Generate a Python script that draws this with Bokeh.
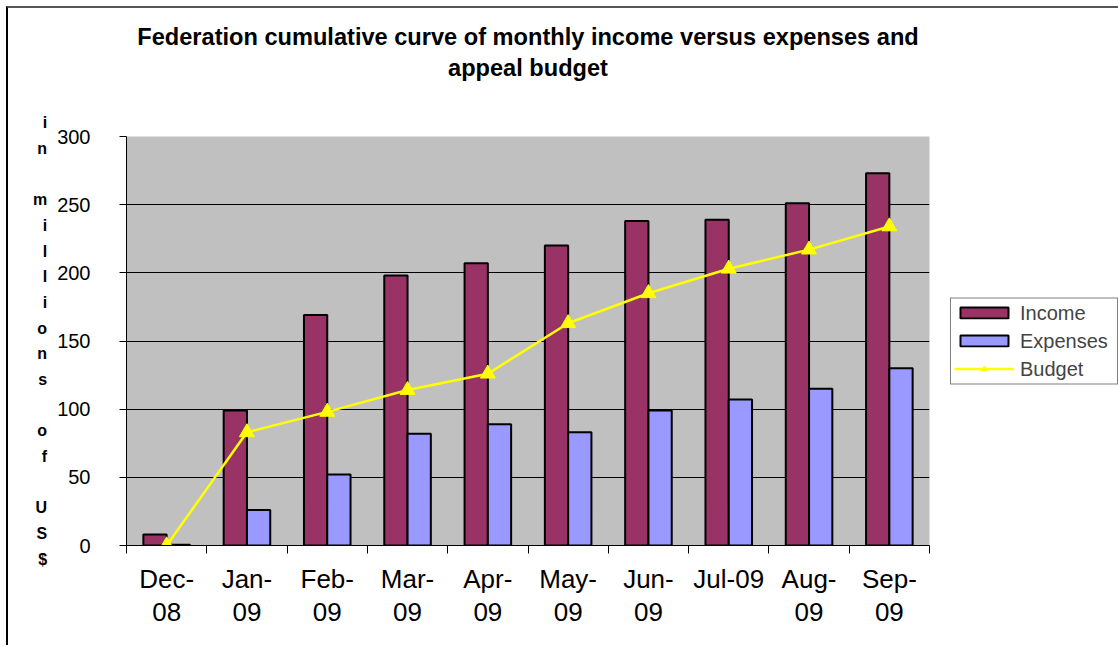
from bokeh.plotting import figure
from bokeh.models import Range1d, FixedTicker, Title, Legend, LegendItem, ColumnDataSource
from bokeh.embed import file_html
from bokeh.resources import INLINE

# ---- data ----
months = ["Dec-08", "Jan-09", "Feb-09", "Mar-09", "Apr-09",
          "May-09", "Jun-09", "Jul-09", "Aug-09", "Sep-09"]
tick_labels = ["Dec-\n08", "Jan-\n09", "Feb-\n09", "Mar-\n09", "Apr-\n09",
               "May-\n09", "Jun-\n09", "Jul-09", "Aug-\n09", "Sep-\n09"]
income = [8, 99, 169, 198, 207, 220, 238, 239, 251, 273]
expenses = [0.5, 26, 52, 82, 89, 83, 99, 107, 115, 130]
budget = [0, 83, 98, 114, 126, 163, 185, 203, 217, 234]
y_ticks = [0, 50, 100, 150, 200, 250, 300]
title_lines = ["Federation cumulative curve of monthly income versus expenses and",
               "appeal budget"]
y_title = "in millions of US$"

FONT = "Liberation Sans"
BAR_W = 0.29

centers = [i + 0.5 for i in range(len(months))]
src = ColumnDataSource(dict(
    xc=centers,
    xi=[c - BAR_W / 2 for c in centers],
    xe=[c + BAR_W / 2 for c in centers],
    income=income, expenses=expenses, budget=budget,
))

p = figure(frame_width=803, frame_height=409,
           x_range=Range1d(0, len(months)), y_range=Range1d(0, 300),
           output_backend="svg", toolbar_location=None,
           min_border_left=118, min_border_right=187,
           min_border_top=128, min_border_bottom=100,
           background_fill_color="#C0C0C0", border_fill_color="white",
           outline_line_color=None)
p.styles = {"margin-left": "6px", "margin-top": "6px",
            "border-left": "2px solid #000000", "border-top": "2px solid #555555"}

r_inc = p.vbar(x="xi", top="income", width=BAR_W, source=src,
               fill_color="#993366", line_color="black", line_width=2)
r_exp = p.vbar(x="xe", top="expenses", width=BAR_W, source=src,
               fill_color="#9999FF", line_color="black", line_width=2)
r_line = p.line(x="xc", y="budget", source=src, line_color="#FFFF00", line_width=2.5)
r_pts = p.scatter(x="xc", y="budget", source=src, marker="triangle", size=15,
                  fill_color="#FFFF00", line_color="#FFFF00")

# grid
p.xgrid.visible = False
p.ygrid.grid_line_color = "black"
p.ygrid.grid_line_width = 1
p.ygrid.ticker = FixedTicker(ticks=y_ticks)

# y axis
p.yaxis.ticker = FixedTicker(ticks=y_ticks)
p.yaxis.axis_line_color = "black"
p.yaxis.major_tick_line_color = "black"
p.yaxis.major_tick_out = 7
p.yaxis.major_tick_in = 0
p.yaxis.minor_tick_line_color = None
p.yaxis.major_label_text_font = FONT
p.yaxis.major_label_text_font_size = "20px"
p.yaxis.major_label_text_color = "black"
p.yaxis.major_label_standoff = 29
p.yaxis.axis_label = "\n".join(list(y_title))
p.yaxis.axis_label_orientation = "horizontal"
p.yaxis.axis_label_text_font = FONT
p.yaxis.axis_label_text_font_size = "16px"
p.yaxis.axis_label_text_font_style = "bold"
p.yaxis.axis_label_text_color = "black"
p.yaxis.axis_label_text_line_height = 1.51
p.yaxis.axis_label_standoff = 7

# x axis
p.xaxis.ticker = FixedTicker(ticks=centers, minor_ticks=list(range(len(months) + 1)))
p.xaxis.major_label_overrides = {c: t for c, t in zip(centers, tick_labels)}
p.xaxis.axis_line_color = "black"
p.xaxis.major_tick_line_color = None
p.xaxis.major_tick_out = 0
p.xaxis.major_tick_in = 0
p.xaxis.minor_tick_line_color = "black"
p.xaxis.minor_tick_out = 8
p.xaxis.minor_tick_in = 0
p.xaxis.major_label_text_font = FONT
p.xaxis.major_label_text_font_size = "26px"
p.xaxis.major_label_text_color = "black"
p.xaxis.major_label_text_line_height = 1.1
p.xaxis.major_label_standoff = 10

# above panel: spacer closest to the frame, then title line 2, then line 1
p.add_layout(Title(text=" ", align="center", standoff=53,
                   text_font=FONT, text_font_size="1px"), "above")
p.add_layout(Title(text=title_lines[1], align="center", standoff=0,
                   text_font=FONT, text_font_size="23.6px", text_font_style="bold",
                   text_color="black"), "above")
p.add_layout(Title(text=title_lines[0], align="center", standoff=6,
                   text_font=FONT, text_font_size="23.6px", text_font_style="bold",
                   text_color="black"), "above")

legend = Legend(items=[
    LegendItem(label="Income", renderers=[r_inc]),
    LegendItem(label="Expenses", renderers=[r_exp]),
    LegendItem(label="Budget", renderers=[r_line, r_pts]),
], location="center_left", margin=21, padding=3, spacing=5,
    glyph_width=60, glyph_height=14, label_standoff=6, label_width=94,
    label_text_font=FONT, label_text_font_size="20px",
    border_line_color="black", border_line_width=1,
    background_fill_color="white")
p.add_layout(legend, "right")

open("out.html", "w").write(file_html(p, INLINE))
